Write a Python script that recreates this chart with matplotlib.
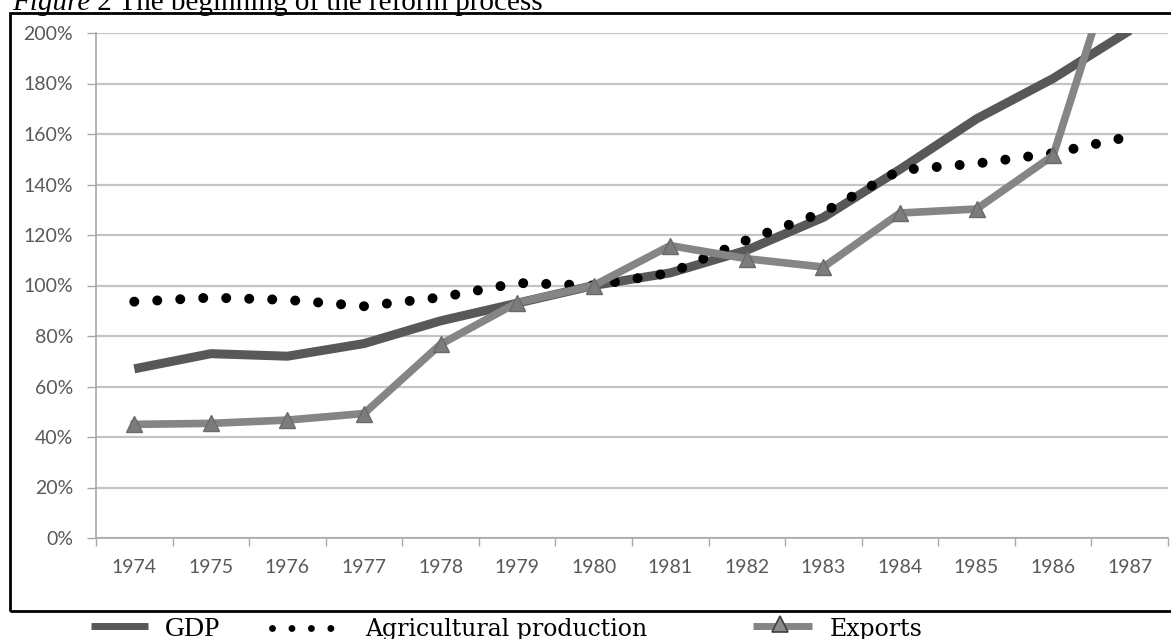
import matplotlib.pyplot as plt
import matplotlib.patches as mpatches
from matplotlib.lines import Line2D

# ─── DATA (index 1980 = 100%) ────────────────────────────────────────────────
years = [1974, 1975, 1976, 1977, 1978, 1979, 1980,
         1981, 1982, 1983, 1984, 1985, 1986, 1987]
gdp = [67, 73, 72, 77, 86, 93, 100, 105, 114, 127, 146, 166, 182, 201]
agri = [93.6, 95.2, 94.3, 91.8, 95.3, 101, 100, 105, 118, 129, 145.7, 148.3, 152.4, 159]
exports = [45, 45.4, 46.7, 49.3, 76.7, 93.2, 100, 115.8, 110.6, 107.3, 128.7, 130.3, 151.5, 247]
y_ticks = [0, 20, 40, 60, 80, 100, 120, 140, 160, 180, 200]
y_tick_labels = [f"{v}%" for v in y_ticks]
caption_italic = "Figure"
caption_rest = " 2 The beginning of the reform process"
legend_labels = ["GDP", "Agricultural production", "Exports"]

W, H = 1171, 639
GDP_COLOR = "#585858"
EXP_COLOR = "#858585"
LABEL_COLOR = "#595959"
GRID_COLOR = "#c4c4c4"


def px(x, y_top):
    """pixel position (from top-left) -> figure fraction"""
    return x / W, (H - y_top) / H


fig = plt.figure(figsize=(W / 100, H / 100), dpi=100)
ax = fig.add_axes([96 / W, (H - 538) / H, 1072 / W, 505 / H])

xs = list(range(len(years)))
ax.plot(xs, gdp, color=GDP_COLOR, lw=6.5, solid_capstyle="butt", solid_joinstyle="round", zorder=3)
ax.plot(xs, agri, color="black", lw=7.2, linestyle=(0, (0.001, 2.3)),
        dash_capstyle="round", zorder=4)
ax.plot(xs, exports, color=EXP_COLOR, lw=5.5, solid_joinstyle="miter",
        marker="^", markersize=12, markerfacecolor="#7c7c7c",
        markeredgecolor="#6a6a6a", markeredgewidth=1, zorder=5)

ax.set_xlim(-0.5, len(years) - 0.5)
ax.set_ylim(0, 200)

ax.set_yticks(y_ticks)
ax.set_yticklabels(y_tick_labels)
ax.set_xticks(xs)
ax.set_xticklabels([str(y) for y in years])
ax.set_xticks([i - 0.5 for i in range(len(years) + 1)], minor=True)

for lbl in ax.get_xticklabels() + ax.get_yticklabels():
    lbl.set_fontfamily("Lato")
    lbl.set_fontsize(14)
    lbl.set_color(LABEL_COLOR)

ax.tick_params(axis="y", direction="out", length=6.5, width=1, color="#a8a8a8", pad=10)
ax.tick_params(axis="x", which="major", length=0, pad=15)
ax.tick_params(axis="x", which="minor", direction="out", length=6, width=1, color="#a8a8a8")

ax.grid(axis="y", color=GRID_COLOR, lw=1.6, zorder=0)
ax.set_axisbelow(True)
for side in ["top", "right"]:
    ax.spines[side].set_visible(False)
for side in ["left", "bottom"]:
    ax.spines[side].set_color("#a8a8a8")
    ax.spines[side].set_linewidth(1.2)

# frame box around the chart
x0, y0 = px(10, 611)
box = mpatches.Rectangle((x0, y0), 1.2, (611 - 13) / H, transform=fig.transFigure,
                         fill=False, edgecolor="black", lw=2, clip_on=False)
fig.patches.append(box)

# caption (cut at the top, as in the source page)
cx, cy = px(12, 10)
t1 = fig.text(cx, cy, caption_italic, fontfamily="Liberation Serif", fontstyle="italic",
              fontsize=21, va="baseline", ha="left")
fig.canvas.draw()
bb = t1.get_window_extent()
fig.text(bb.x1 / W, cy, caption_rest, fontfamily="Liberation Serif",
         fontsize=21, va="baseline", ha="left")

# legend below the box
ly = 626
fig.lines.append(Line2D([91 / W, 148 / W], [px(0, ly)[1]] * 2, transform=fig.transFigure,
                        color=GDP_COLOR, lw=5, solid_capstyle="butt"))
fig.text(165 / W, px(0, 636)[1], legend_labels[0], fontfamily="Liberation Serif",
         fontsize=20, va="baseline")
fig.lines.append(Line2D([272 / W, 332 / W], [px(0, 628)[1]] * 2, transform=fig.transFigure,
                        color="black", lw=5, linestyle=(0, (0.001, 2.8)),
                        dash_capstyle="round"))
fig.text(365 / W, px(0, 636)[1], legend_labels[1], fontfamily="DejaVu Serif",
         fontsize=17, va="baseline")
fig.lines.append(Line2D([753 / W, 812 / W], [px(0, ly)[1]] * 2, transform=fig.transFigure,
                        color=EXP_COLOR, lw=5, solid_capstyle="butt"))
fig.lines.append(Line2D([780 / W], [px(0, ly - 2)[1]], transform=fig.transFigure,
                        marker="^", markersize=12, markerfacecolor="#8a8a8a",
                        markeredgecolor="#404040", markeredgewidth=1.2, lw=0))
fig.text(830 / W, px(0, 636)[1], legend_labels[2], fontfamily="DejaVu Serif",
         fontsize=17, va="baseline")

fig.savefig("out.png", dpi=100, facecolor="white")
